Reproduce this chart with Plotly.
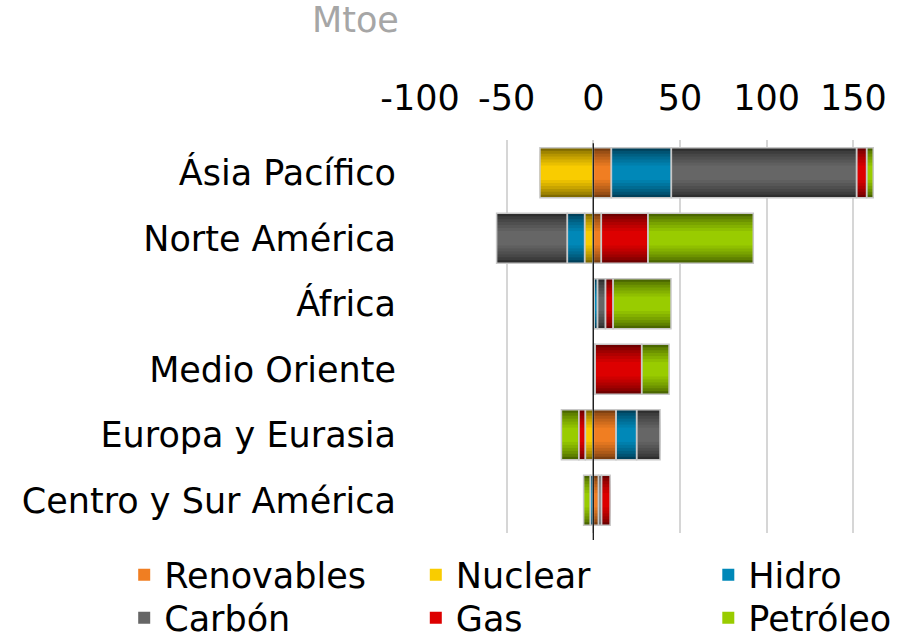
import plotly.graph_objects as go

# ---- data (Mtoe) ----
categories = ["Ásia Pacífico", "Norte América", "África", "Medio Oriente",
              "Europa y Eurasia", "Centro y Sur América"]
series_names = ["Renovables", "Nuclear", "Hidro", "Carbón", "Gas", "Petróleo"]
renovables = [10.4, 4.6, 0.5, 0.5, 13.1, 3.0]
nuclear = [-30.8, -5.0, None, None, -4.6, None]
hidro = [34.6, -10.0, 1.9, 0.5, 11.9, -1.7]
carbon = [106.9, -40.8, 4.6, None, 13.5, 1.7]
gas = [5.8, 26.9, 4.4, 26.9, -3.8, 5.0]
petroleo = [3.8, 60.8, 33.4, 15.8, -10.0, -3.9]
tick_vals = [-100, -50, 0, 50, 100, 150]
tick_labels = ["-100", "-50", "0", "50", "100", "150"]

series_values = [renovables, nuclear, hidro, carbon, gas, petroleo]
mid_colors = ["#F07E22", "#F9CC00", "#0088B8", "#666666", "#DD0000", "#99CC00"]
edge_colors = ["#7A3E10", "#7F6A00", "#00405A", "#2E2E2E", "#6E0000", "#4A6600"]

FONT = "DejaVu Sans"
FS = 35
X_RANGE = [-100, 165.4]
M_L, M_R, M_T, M_B = 420, 20, 140, 108
PLOT_W = 900 - M_L - M_R
PLOT_H = 641 - M_T - M_B

# legend placement (container fractions): 3 columns x 2 rows
legend_cols = [0.138, 0.462, 0.787]
legend_rows = [1 - 575 / 641, 1 - 618 / 641]


def hex2rgb(h):
    h = h.lstrip("#")
    return tuple(int(h[i:i + 2], 16) for i in (0, 2, 4))


def mix(c1, c2, t):
    a, b = hex2rgb(c1), hex2rgb(c2)
    return "rgb(%d,%d,%d)" % tuple(round(a[i] + (b[i] - a[i]) * t) for i in range(3))


fig = go.Figure()
N_LAYERS = 7
BAR_W = 0.765
widths = [BAR_W - k * (BAR_W - 0.22) / (N_LAYERS - 1) for k in range(N_LAYERS)]

for k in range(N_LAYERS + 1):
    suffix = "" if k == 0 else str(k + 1)
    for i, (name, vals) in enumerate(zip(series_names, series_values)):
        if k < N_LAYERS:
            t = (k / (N_LAYERS - 1)) ** 0.75
            color = mix(edge_colors[i], mid_colors[i], t)
            line = dict(width=0)
            w = widths[k]
        else:
            color = "rgba(0,0,0,0)"
            line = dict(color="#C8C8C8", width=1.5)
            w = BAR_W
        show = (k == N_LAYERS - 1)
        fig.add_trace(go.Bar(
            y=categories, x=vals, orientation="h", width=w, name=name,
            marker=dict(color=color, line=line),
            xaxis="x" + suffix, yaxis="y" + suffix,
            showlegend=show, legendgroup=name,
            legend="legend" if i == 0 else "legend%d" % (i + 1),
            hoverinfo="skip",
        ))

layout = dict(
    width=900, height=641,
    margin=dict(l=M_L, r=M_R, t=M_T, b=M_B, autoexpand=False),
    paper_bgcolor="white", plot_bgcolor="white",
    barmode="relative",
    font=dict(family=FONT, size=FS, color="black"),
    xaxis=dict(range=X_RANGE, side="top", tickvals=tick_vals, ticktext=tick_labels,
               showgrid=True, gridcolor="#D6D6D6", gridwidth=2,
               zeroline=False, showline=False, ticks="",
               ticklabelstandoff=22, tickfont=dict(size=FS)),
    yaxis=dict(categoryorder="array", categoryarray=categories,
               range=[5.5, -0.5], showgrid=False, zeroline=False, ticks="",
               ticklabelstandoff=23, tickfont=dict(size=FS)),
    annotations=[dict(text="Mtoe", xref="paper", yref="paper",
                      x=(355 - M_L) / PLOT_W, y=(641 - M_B - 20) / PLOT_H,
                      xanchor="center", yanchor="middle",
                      showarrow=False, font=dict(size=FS, color="#A6A6A6"))],
    shapes=[dict(type="line", xref="x", yref="paper", x0=0, x1=0,
                 y0=-0.018, y1=0.992, layer="above",
                 line=dict(color="#1A1A1A", width=1.3))],
)
for i in range(len(series_names)):
    key = "legend" if i == 0 else "legend%d" % (i + 1)
    layout[key] = dict(orientation="h", xref="container", yref="container",
                       x=legend_cols[i % 3], y=legend_rows[i // 3],
                       xanchor="left", yanchor="middle",
                       font=dict(size=FS), bgcolor="rgba(0,0,0,0)",
                       itemclick=False, itemdoubleclick=False)
for k in range(1, N_LAYERS + 1):
    layout["xaxis%d" % (k + 1)] = dict(range=X_RANGE, overlaying="x", visible=False)
    layout["yaxis%d" % (k + 1)] = dict(categoryorder="array", categoryarray=categories,
                                       range=[5.5, -0.5], overlaying="y", visible=False)

fig.update_layout(**layout)
fig.write_html("out.html", config={"displayModeBar": False},
               post_script="document.body.style.margin='0px';")
